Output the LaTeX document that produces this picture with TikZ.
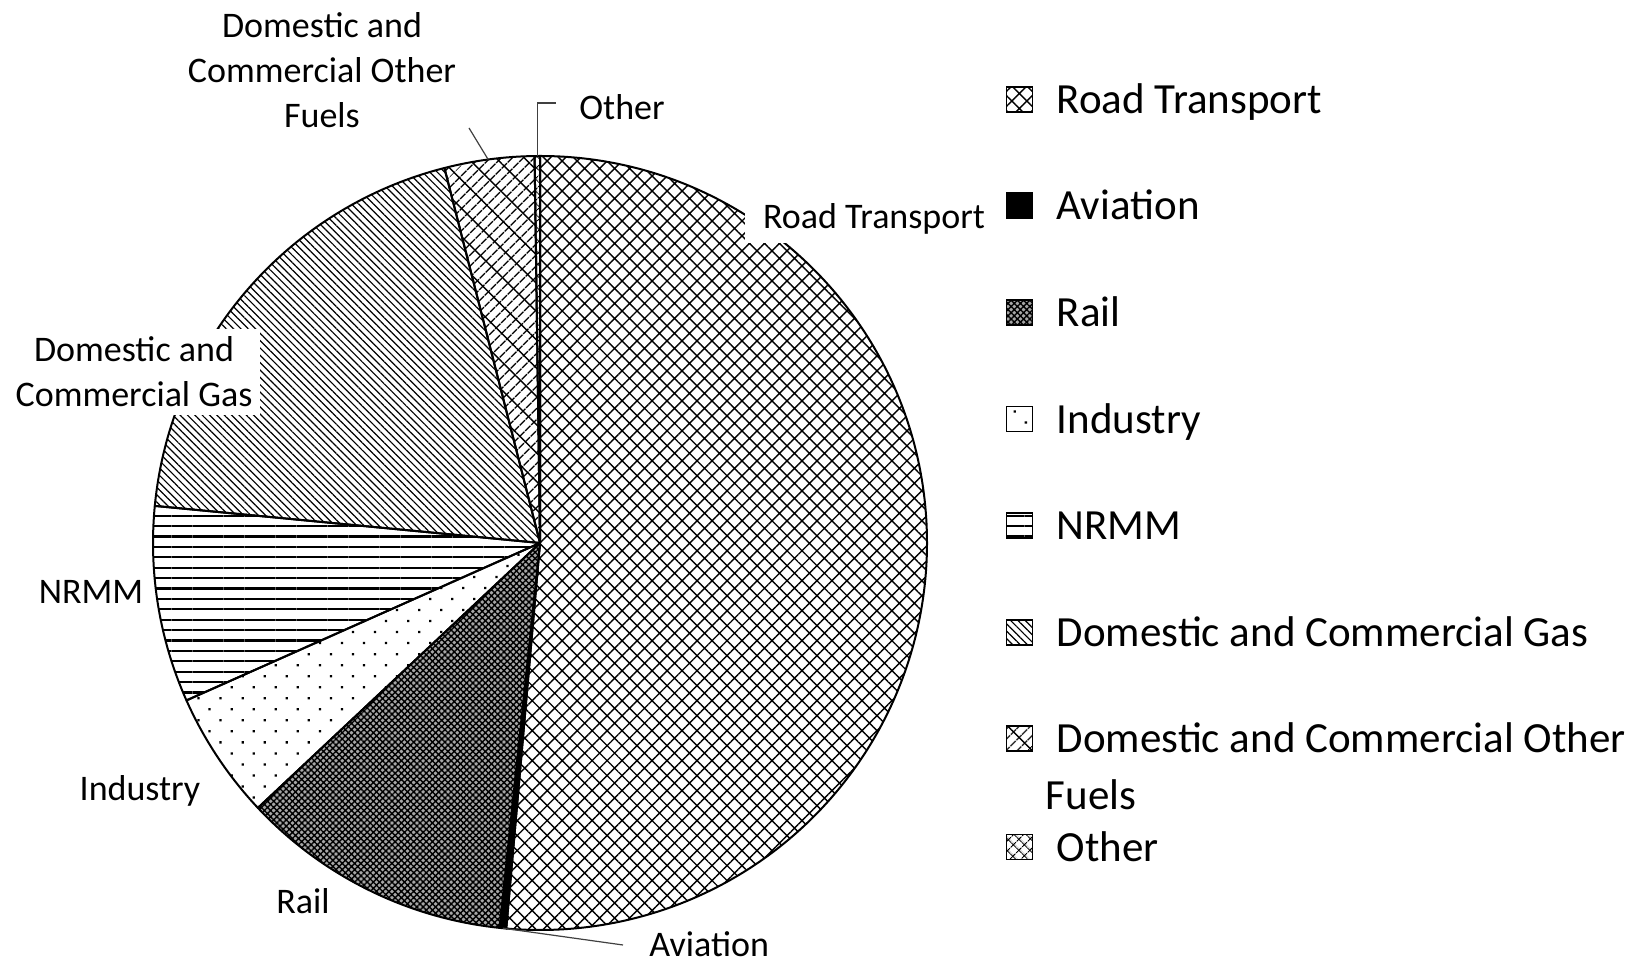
\documentclass[tikz,border=0pt]{standalone}
\usepackage{fontspec}
\setmainfont{Carlito}
\usetikzlibrary{positioning,patterns.meta}

\tikzset{
  slice/.style={draw=black, line width=1pt, line join=round},
  rtpat/.style={pattern={Hatch[angle=45,distance=5.3pt,line width=.7pt]}},
  avpat/.style={fill=black},
  railpat/.style={fill=black!35, postaction={pattern={Hatch[angle=45,distance=2.2pt,line width=.7pt]}}},
  indpat/.style={pattern={Dots[angle=45,distance=7.8pt,radius=.8pt]}},
  nrmmpat/.style={pattern={Lines[angle=0,distance=5.2pt,line width=1.1pt]}},
  gaspat/.style={pattern={Lines[angle=-45,distance=2.6pt,line width=.6pt]}},
  fuelpat/.style={pattern={Lines[angle=45,distance=4pt,line width=.7pt]}, postaction={pattern={Lines[angle=-45,distance=10pt,line width=.7pt]}}},
  othpat/.style={pattern={Hatch[angle=45,distance=4pt,line width=.6pt]}},
  lbl/.style={fill=white, inner sep=4pt, align=center, font=\fontsize{18}{22.5}\selectfont},
  leader/.style={draw=black!75, line width=.6pt},
  key/.style={draw=black, line width=.9pt, minimum width=13pt, minimum height=12.5pt, inner sep=0pt},
  keytext/.style={inner sep=0pt, text height=16pt, text depth=2pt, font=\fontsize{21.5}{27.5}\selectfont},
}

\begin{document}
\begin{tikzpicture}[x=0.5pt,y=0.5pt]
  \useasboundingbox (0,0) rectangle (1639,963);

  % pie, clockwise from the top
  \begin{scope}[shift={(540,420)}]
    \coordinate (c) at (0,0);
    \draw[slice, rtpat] (c) -- (90:387) arc[start angle=90, end angle=-95, radius=387] -- cycle;
    \draw[slice, avpat] (c) -- (-95:387) arc[start angle=-95, end angle=-96, radius=387] -- cycle;
    \draw[slice, railpat] (c) -- (-96:387) arc[start angle=-96, end angle=-136.8, radius=387] -- cycle;
    \draw[slice, indpat] (c) -- (-136.8:387) arc[start angle=-136.8, end angle=-156, radius=387] -- cycle;
    \draw[slice, nrmmpat] (c) -- (-156:387) arc[start angle=-156, end angle=-185.5, radius=387] -- cycle;
    \draw[slice, gaspat] (c) -- (-185.5:387) arc[start angle=-185.5, end angle=-255.7, radius=387] -- cycle;
    \draw[slice, fuelpat] (c) -- (-255.7:387) arc[start angle=-255.7, end angle=-269.2, radius=387] -- cycle;
    \draw[slice, othpat] (c) -- (-269.2:387) arc[start angle=-269.2, end angle=-270, radius=387] -- cycle;
    \coordinate (ot) at (90.4:387);
    \coordinate (ft) at (97.7:387);
    \coordinate (at) at (-95.5:387);
  \end{scope}

  % data labels
  \node (fl) [lbl] at (322,893) {Domestic and\\Commercial Other\\Fuels};
  \node (ol) [lbl, anchor=west] at (571,856) {Other};
  \node (rl) [lbl, inner xsep=9pt, minimum height=24pt] at (874,744) {Road Transport};
  \node (gl) [lbl] at (134,591) {Domestic and\\Commercial Gas};
  \node (nl) [lbl] at (91,371) {NRMM};
  \node (il) [lbl] at (140,172) {Industry};
  \node (rail) [lbl] at (303,62) {Rail};
  \node (al) [lbl, anchor=west, inner ysep=1pt] at (641,19) {Aviation};

  \coordinate (fs) at (469,835);
  \coordinate (oc) at (556,860);
  \coordinate (ae) at (623,18);
  \draw[leader] (fs) -- (ft);
  \draw[leader] (ot) -- (ot |- oc) -- (oc);
  \draw[leader] (at) -- (ae);

  % legend
  \node (ka) [key, rtpat] at (1019.5,863.7) {};
  \node (ta) [keytext, right=11.5pt of ka] {Road Transport};
  \node (kb) [key, avpat, below=39.9pt of ka] {};
  \node (tb) [keytext, right=11.5pt of kb] {Aviation};
  \node (kc) [key, railpat, below=39.9pt of kb] {};
  \node (tc) [keytext, right=11.5pt of kc] {Rail};
  \node (kd) [key, indpat, below=39.9pt of kc] {};
  \node (td) [keytext, right=11.5pt of kd] {Industry};
  \node (ke) [key, nrmmpat, below=39.9pt of kd] {};
  \node (te) [keytext, right=11.5pt of ke] {NRMM};
  \node (kf) [key, gaspat, below=39.9pt of ke] {};
  \node (tf) [keytext, right=11.5pt of kf] {Domestic and Commercial Gas};
  \node (kg) [key, fuelpat, below=39.9pt of kf] {};
  \node (tg) [keytext, right=11.5pt of kg] {Domestic and Commercial Other};
  \node (tg2) [keytext, below=9.75pt of tg.south west, anchor=north west, xshift=-5.5pt] {Fuels};
  \node (kh) [key, othpat, below=40.7pt of kg] {};
  \node (th) [keytext, right=11.5pt of kh] {Other};
\end{tikzpicture}
\end{document}
